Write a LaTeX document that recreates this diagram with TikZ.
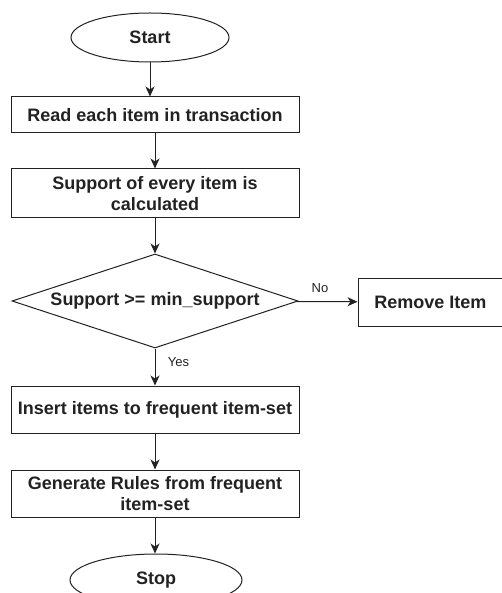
\documentclass[tikz,border=0pt]{standalone}
\usepackage{fontspec}
\setmainfont{Liberation Sans}
\usetikzlibrary{shapes.geometric,arrows.meta}
\definecolor{ink}{HTML}{222222}
\tikzset{
  x=1pt,y=-1pt,
  every node/.style={text=ink},
  base/.style={draw=ink, line width=1pt, inner sep=0pt, align=center,
    font=\bfseries\fontsize{18}{20.5}\selectfont},
  procbox/.style={base, rectangle, minimum width=288pt},
  term/.style={base, ellipse},
  decide/.style={base, diamond, aspect=3.04, minimum width=286pt, minimum height=94pt},
  flow/.style={draw=ink, line width=1pt, -{Stealth[length=10pt,width=9pt,inset=3pt]}},
  lbl/.style={font=\fontsize{13}{15}\selectfont, inner sep=0pt}
}
\begin{document}
\begin{tikzpicture}
\useasboundingbox (0,0) rectangle (501,593);
\node[term, minimum width=158pt, minimum height=49pt] (start) at (150,37.5) {Start};
\node[procbox, minimum height=36pt] (b1) at (155,115) {Read each item in transaction};
\node[procbox, minimum height=49pt] (b2) at (155,193.5) {Support of every item is\\calculated};
\node[decide] (d) at (155,301) {Support >= min\_support};
\node[base, rectangle, minimum width=145pt, minimum height=48pt] (rm) at (430.5,302) {Remove Item};
\node[procbox, minimum height=47pt] (b3) at (155,409.5) {Insert items to frequent item-set};
\node[procbox, minimum height=47pt] (b4) at (155,493.5) {Generate Rules from frequent\\item-set};
\node[term, minimum width=172pt, minimum height=52pt] (stop) at (156,580) {Stop};
\draw[flow] (start) -- (start |- b1.north);
\draw[flow] (b1) -- (b2);
\draw[flow] (b2) -- (d);
\draw[flow] (d) -- (rm);
\draw[flow] (d) -- (b3);
\draw[flow] (b3) -- (b4);
\draw[flow] (b4.south) -- (b4.south |- stop.north);
\node[lbl] (no) at (320,288) {No};
\node[lbl] (yes) at (178.5,362) {Yes};
\end{tikzpicture}
\end{document}
